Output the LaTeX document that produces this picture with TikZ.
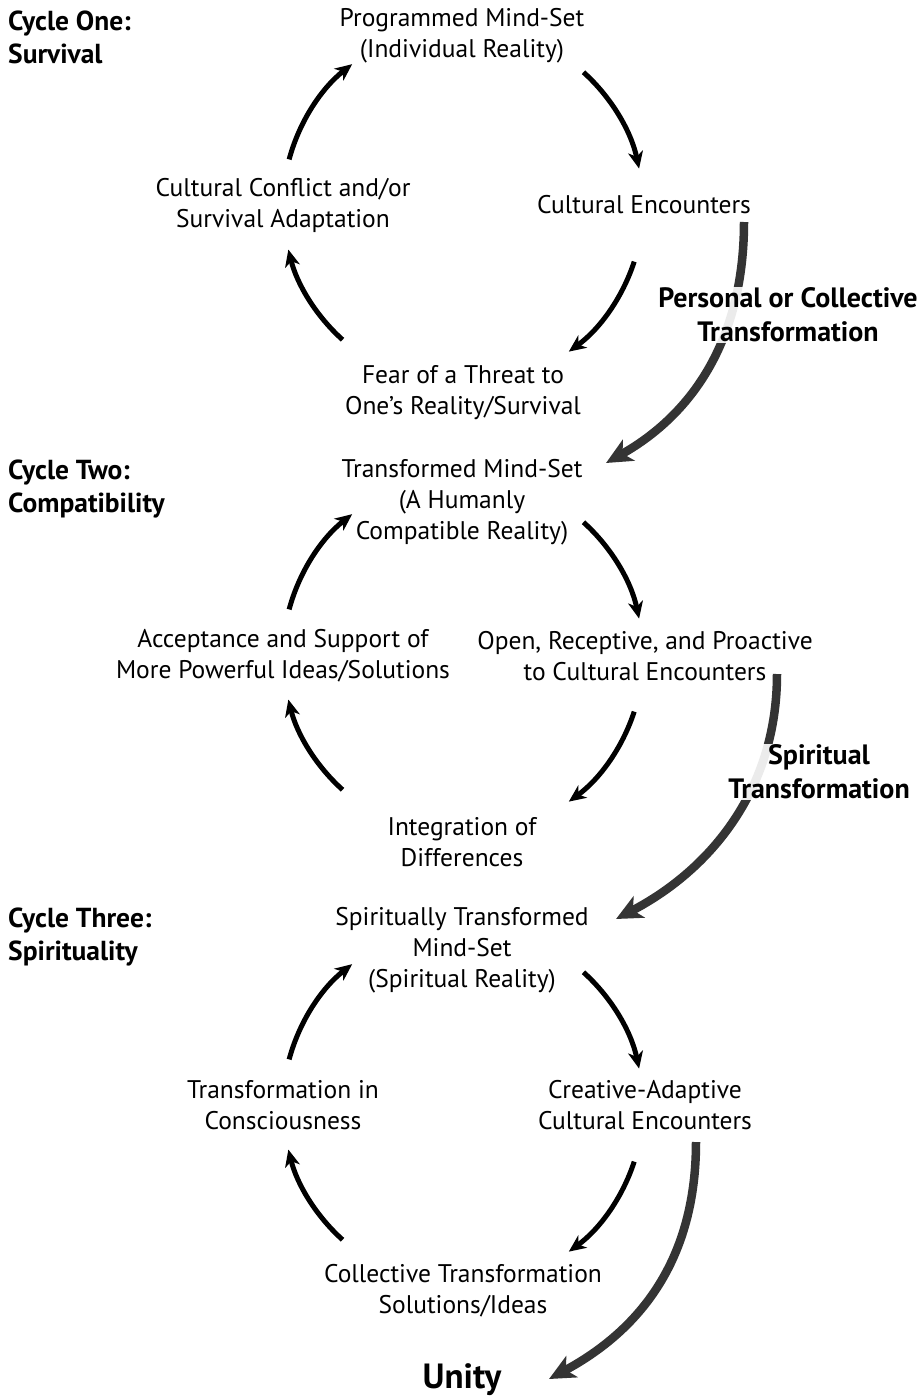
\documentclass[tikz,border=0pt]{standalone}
\usepackage{fontspec}
\setmainfont{PT Sans}
\usetikzlibrary{arrows.meta,calc}
\tikzset{
  txt/.style={align=center,font=\fontsize{25.5}{31}\selectfont,inner sep=0pt},
  cyclab/.style={align=left,anchor=west,font=\bfseries\fontsize{27.5}{33}\selectfont,inner sep=0pt},
  tlab/.style={align=center,font=\bfseries\fontsize{28}{34}\selectfont,fill=white,fill opacity=0.9,text opacity=1,inner sep=1pt},
  cyc/.style={line width=5pt,-{Stealth[length=17pt,width=15pt,inset=5pt]}},
  big/.style={line width=8.5pt,draw={rgb,255:red,52;green,52;blue,52},-{Stealth[length=26pt,width=24pt,inset=7pt]}}
}
\begin{document}
\begin{tikzpicture}[x=1pt,y=1pt]
\useasboundingbox[fill=white] (0,0) rectangle (922,-1397);
% cycle centres
\coordinate (c1) at (463,-206);
\coordinate (c2) at (463,-656);
\coordinate (c3) at (463,-1106);
% big arrows
\coordinate (bs1) at (744,-222);
\coordinate (be1) at (606,-463);
\coordinate (bs2) at (777,-674);
\coordinate (be2) at (616,-919);
\coordinate (bs3) at (696,-1142);
\coordinate (be3) at (549,-1379);
\draw[big] (bs1) .. controls (744,-330) and (700,-410) .. (be1);
\draw[big] (bs2) .. controls (777,-790) and (710,-870) .. (be2);
\draw[big] (bs3) .. controls (696,-1260) and (640,-1330) .. (be3);
\node[tlab] (t1) at (788,-315) {Personal or Collective\\Transformation};
\node[tlab] (t2) at (819,-772) {Spiritual\\Transformation};
% cycle labels
\node[cyclab] (l1) at (8,-37) {Cycle One:\\Survival};
\node[cyclab] (l2) at (8,-489) {Cycle Two:\\Compatibility};
\node[cyclab] (l3) at (8,-937) {Cycle Three:\\Spirituality};
% cycle one
\node[txt] (a1) at (462,-36) {Programmed Mind-Set\\(Individual Reality)};
\node[txt] (a2) at (644,-205) {Cultural Encounters};
\node[txt] (a3) at (463,-393) {Fear of a Threat to\\One’s Reality/Survival};
\node[txt] (a4) at (283,-205) {Cultural Conflict and/or\\Survival Adaptation};
% cycle two
\node[txt] (b1) at (462,-502) {Transformed Mind-Set\\(A Humanly\\Compatible Reality)};
\node[txt] (b2) at (645,-656) {Open, Receptive, and Proactive\\to Cultural Encounters};
\node[txt] (b3) at (462,-842) {Integration of\\Differences};
\node[txt] (b4) at (283,-656) {Acceptance and Support of\\More Powerful Ideas/Solutions};
% cycle three
\node[txt] (d1) at (462,-950) {Spiritually Transformed\\Mind-Set\\(Spiritual Reality)};
\node[txt] (d2) at (645,-1105) {Creative-Adaptive\\Cultural Encounters};
\node[txt] (d3) at (463,-1291) {Collective Transformation\\Solutions/Ideas};
\node[txt] (d4) at (283,-1105) {Transformation in\\Consciousness};
\node[font=\bfseries\fontsize{35}{40}\selectfont,inner sep=0pt] (u) at (462,-1380) {Unity};
% cycle arrows
\foreach \c in {c1,c2,c3}{
  \draw[cyc] ($(\c)+(165:180)$) arc[start angle=165,end angle=128,radius=180];
  \draw[cyc] ($(\c)+(48:180)$) arc[start angle=48,end angle=12,radius=180];
  \draw[cyc] ($(\c)+(-18:180)$) arc[start angle=-18,end angle=-54,radius=180];
  \draw[cyc] ($(\c)+(228:180)$) arc[start angle=228,end angle=194,radius=180];
}
\end{tikzpicture}
\end{document}
